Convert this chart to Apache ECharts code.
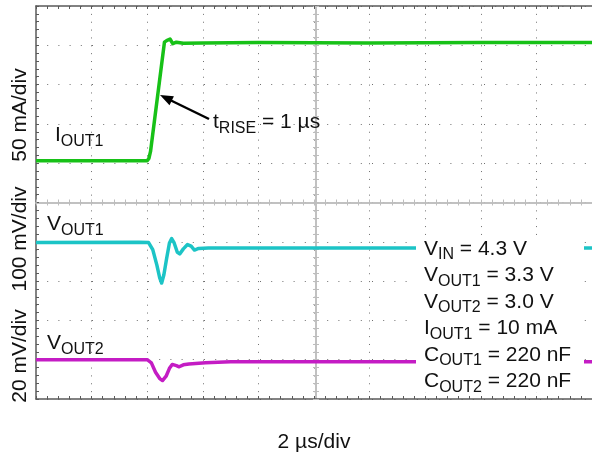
<!DOCTYPE html>
<html>
<head>
<meta charset="utf-8">
<script src="https://cdn.jsdelivr.net/npm/echarts@6/dist/echarts.min.js"></script>
<style>
  html, body { margin: 0; padding: 0; background: #fff; }
  #chart { width: 592px; height: 456px; }
</style>
</head>
<body>
<div id="chart"></div>
<script>
  // time in us (2 us/div), traces in scope divisions (0 = bottom of screen)
  var ioutTime = [0, 4.0, 4.06, 4.12, 4.62, 4.7, 4.82, 4.92, 5.05, 5.3, 6.0, 8.0, 12.0, 16.0, 20.0];
  var ioutDiv = [6.06, 6.06, 6.12, 6.3, 9.08, 9.12, 9.16, 9.04, 9.08, 9.05, 9.06, 9.07, 9.06, 9.07, 9.07];

  var vout1Time = [0, 3.7, 4.05, 4.2, 4.35, 4.45, 4.52, 4.6, 4.7, 4.8, 4.88, 4.97, 5.08, 5.17, 5.3, 5.45, 5.58, 5.7, 5.85, 6.2, 10, 20];
  var vout1Div = [3.98, 3.99, 3.98, 3.8, 3.4, 3.08, 2.95, 3.16, 3.58, 3.97, 4.08, 3.97, 3.74, 3.69, 3.82, 3.93, 3.89, 3.79, 3.83, 3.84, 3.84, 3.84];

  var vout2Time = [0, 4.0, 4.15, 4.3, 4.45, 4.55, 4.68, 4.8, 4.9, 5.05, 5.15, 5.3, 5.5, 6.1, 7.0, 10, 20];
  var vout2Div = [1.0, 1.0, 0.92, 0.68, 0.52, 0.47, 0.58, 0.78, 0.88, 0.85, 0.82, 0.87, 0.89, 0.92, 0.95, 0.95, 0.95];

  var FONT = '"Liberation Sans", Arial, sans-serif';
  var MAIN = 21;
  var SUB = 16;
  var ctx = document.createElement('canvas').getContext('2d');

  function pairs (xs, ys) {
    return xs.map(function (x, i) { return [x, ys[i]]; });
  }

  // distance from the "middle" text baseline down to the alphabetic baseline
  function midToBase (size) {
    ctx.font = size + 'px ' + FONT;
    ctx.textBaseline = 'middle';
    return ctx.measureText('H').actualBoundingBoxDescent;
  }

  // main text + subscripts laid out left to right on one baseline
  function labelRow (x, base, parts) {
    var els = [];
    var cx = x;
    parts.forEach(function (p) {
      var size = p[1] ? SUB : MAIN;
      var b = p[1] ? base + 4.5 : base;
      var font = size + 'px ' + FONT;
      els.push({
        type: 'text',
        z: 100,
        style: {
          text: p[0], x: cx, y: b - midToBase(size),
          font: font, fill: '#111', align: 'left', verticalAlign: 'middle'
        }
      });
      ctx.font = font;
      cx += ctx.measureText(p[0]).width;
    });
    return els;
  }

  function vertLabel (text, x, y) {
    return {
      type: 'text', z: 100, x: x, y: y, rotation: Math.PI / 2,
      style: { text: text, font: MAIN + 'px ' + FONT, fill: '#111', align: 'center', verticalAlign: 'middle' }
    };
  }

  function xAx (pos, offset, inside, color, split) {
    return {
      type: 'value', min: 0, max: 20, interval: 2, position: pos, offset: offset,
      axisLine: { show: true, onZero: false, lineStyle: { color: color, width: 1.5 } },
      axisTick: { show: true, inside: inside, length: 3, lineStyle: { color: color, width: 1 } },
      minorTick: { show: true, splitNumber: 5, length: 3, lineStyle: { color: color, width: 1 } },
      axisLabel: { show: false },
      splitLine: { show: split, lineStyle: { color: '#6f6f6f', width: 1, type: [1, 6.86] } },
      minorSplitLine: { show: false }
    };
  }

  function yAx (pos, offset, inside, color, split) {
    return {
      type: 'value', min: 0, max: 10, interval: 1, position: pos, offset: offset,
      axisLine: { show: true, onZero: false, lineStyle: { color: color, width: 1.5 } },
      axisTick: { show: true, inside: inside, length: 3, lineStyle: { color: color, width: 1 } },
      minorTick: { show: true, splitNumber: 5, length: 3, lineStyle: { color: color, width: 1 } },
      axisLabel: { show: false },
      splitLine: { show: split, lineStyle: { color: '#6f6f6f', width: 1, type: [1, 10.2] } },
      minorSplitLine: { show: false }
    };
  }

  var graphics = [
    { type: 'rect', z: 50, shape: { x: 416, y: 236, width: 168, height: 156 }, style: { fill: '#fff' } },
    vertLabel('50 mA/div', 20, 115),
    vertLabel('100 mV/div', 20, 239),
    vertLabel('20 mV/div', 20, 356),
    {
      type: 'text', z: 100, x: 314, y: 448 - midToBase(MAIN),
      style: { text: '2 µs/div', font: MAIN + 'px ' + FONT, fill: '#111', align: 'center', verticalAlign: 'middle' }
    },
    // t_RISE arrow
    { type: 'line', z: 100, shape: { x1: 209, y1: 119, x2: 170, y2: 100 }, style: { stroke: '#000', lineWidth: 2.5 } },
    { type: 'polygon', z: 100, shape: { points: [[160, 95], [173.9, 96.2], [169.5, 105.2]] }, style: { fill: '#000' } }
  ];

  graphics = graphics
    .concat(labelRow(55, 141, [['I', 0], ['OUT1', 1]]))
    .concat(labelRow(47, 230, [['V', 0], ['OUT1', 1]]))
    .concat(labelRow(47, 349, [['V', 0], ['OUT2', 1]]))
    .concat(labelRow(213, 128, [['t', 0], ['RISE', 1], [' = 1 µs', 0]]))
    .concat(labelRow(424, 254.5, [['V', 0], ['IN', 1], [' = 4.3 V', 0]]))
    .concat(labelRow(424, 281, [['V', 0], ['OUT1', 1], [' = 3.3 V', 0]]))
    .concat(labelRow(424, 307.5, [['V', 0], ['OUT2', 1], [' = 3.0 V', 0]]))
    .concat(labelRow(424, 334, [['I', 0], ['OUT1', 1], [' = 10 mA', 0]]))
    .concat(labelRow(424, 360.5, [['C', 0], ['OUT1', 1], [' = 220 nF', 0]]))
    .concat(labelRow(424, 387, [['C', 0], ['OUT2', 1], [' = 220 nF', 0]]));

  var chart = echarts.init(document.getElementById('chart'), null, { renderer: 'canvas' });
  chart.setOption({
    animation: false,
    backgroundColor: '#fff',
    grid: { left: 36, top: 6, width: 560, height: 393, containLabel: false },
    xAxis: [
      xAx('bottom', 0, true, '#5a5a5a', true),
      xAx('top', 0, true, '#5a5a5a', false),
      xAx('bottom', -196.5, true, '#bdbdbd', false),
      xAx('bottom', -196.5, false, '#bdbdbd', false)
    ],
    yAxis: [
      yAx('left', 0, true, '#5a5a5a', true),
      yAx('left', -280, true, '#bdbdbd', false),
      yAx('left', -280, false, '#bdbdbd', false)
    ],
    series: [
      {
        name: 'IOUT1', type: 'line', xAxisIndex: 0, yAxisIndex: 0, symbol: 'none', z: 3,
        data: pairs(ioutTime, ioutDiv),
        lineStyle: { color: '#17c117', width: 3.5, join: 'round' }
      },
      {
        name: 'VOUT1', type: 'line', xAxisIndex: 0, yAxisIndex: 0, symbol: 'none', z: 3,
        data: pairs(vout1Time, vout1Div),
        lineStyle: { color: '#1cc4c6', width: 3.5, join: 'round' }
      },
      {
        name: 'VOUT2', type: 'line', xAxisIndex: 0, yAxisIndex: 0, symbol: 'none', z: 3,
        data: pairs(vout2Time, vout2Div),
        lineStyle: { color: '#c41cc4', width: 3.5, join: 'round' }
      }
    ],
    graphic: graphics
  });
</script>
</body>
</html>
